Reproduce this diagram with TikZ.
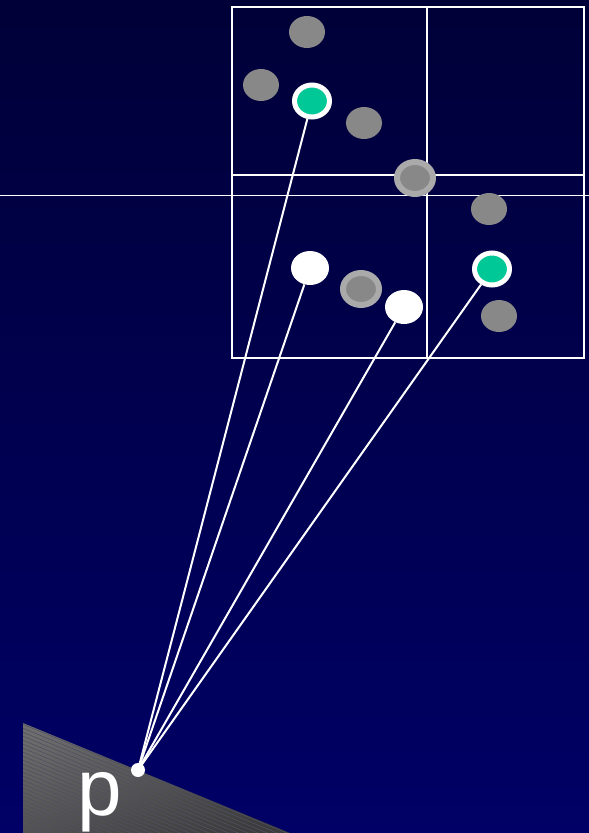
\documentclass[tikz,border=0pt]{standalone}
\usepackage{fontspec}
\setmainfont{Liberation Sans}
\usetikzlibrary{shapes.geometric}
\definecolor{bgtop}{RGB}{0,0,56}
\definecolor{bgbot}{RGB}{0,0,102}
\definecolor{dotgray}{RGB}{136,136,136}
\definecolor{ringgray}{RGB}{170,170,170}
\definecolor{dotgreen}{RGB}{0,200,150}
\definecolor{wedgetop}{RGB}{110,110,110}
\definecolor{wedgebot}{RGB}{60,60,60}
\definecolor{stripe}{RGB}{80,80,100}
\tikzset{
  x=1pt,y=-1pt,
  graydot/.style={ellipse,inner sep=0pt,minimum width=36pt,minimum height=32pt,fill=dotgray},
  ringdot/.style={ellipse,inner sep=0pt,minimum width=36pt,minimum height=32pt,fill=dotgray,draw=ringgray,line width=6pt},
  whitedot/.style={ellipse,inner sep=0pt,minimum width=38pt,minimum height=34pt,fill=white},
  greendot/.style={ellipse,inner sep=0pt,minimum width=35pt,minimum height=32pt,fill=dotgreen,draw=white,line width=5pt},
  gridline/.style={draw=white,line width=2pt},
  ray/.style={draw=white,line width=2pt},
}
\begin{document}
\begin{tikzpicture}
\shade[top color=bgtop,bottom color=bgbot] (0,0) rectangle (589,833);
\useasboundingbox (0,0) rectangle (589,833);
% wedge
\begin{scope}
\clip (23,723) -- (290,833) -- (23,833) -- cycle;
\shade[top color=wedgetop,bottom color=wedgebot,shading angle=20] (0,720) rectangle (300,833);
\foreach \k in {0,4,...,120}
  \draw[stripe,line width=0.6pt] (20,{723+\k}) -- (300,{723+\k+115.4});
\end{scope}
% grid
\draw[gridline] (232,7) rectangle (584,358);
\draw[gridline] (427,7) -- (427,358);
\draw[gridline] (232,175) -- (584,175);
\draw[white,line width=1pt] (0,195) -- (589,195);
% dots
\node[graydot] (g1) at (307,32) {};
\node[graydot] (g2) at (261,85) {};
\node[greendot] (c1) at (312,101) {};
\node[graydot] (g3) at (364,123) {};
\node[ringdot] (r1) at (415,178) {};
\node[graydot] (g4) at (489,209) {};
\node[whitedot] (w1) at (310,268) {};
\node[ringdot] (r2) at (361,289) {};
\node[whitedot] (w2) at (404,307) {};
\node[greendot] (c2) at (492,269) {};
\node[graydot] (g5) at (499,316) {};
% point p
\node[circle,fill=white,inner sep=0pt,minimum size=14pt] (p) at (138,770) {};
\node[anchor=base,text=white,font=\fontsize{80}{80}\selectfont,inner sep=0pt] (plabel) at (100,815) {p};
% rays
\draw[ray] (p.center) -- (c1);
\draw[ray] (p.center) -- (w1);
\draw[ray] (p.center) -- (w2);
\draw[ray] (p.center) -- (c2);
\end{tikzpicture}
\end{document}
